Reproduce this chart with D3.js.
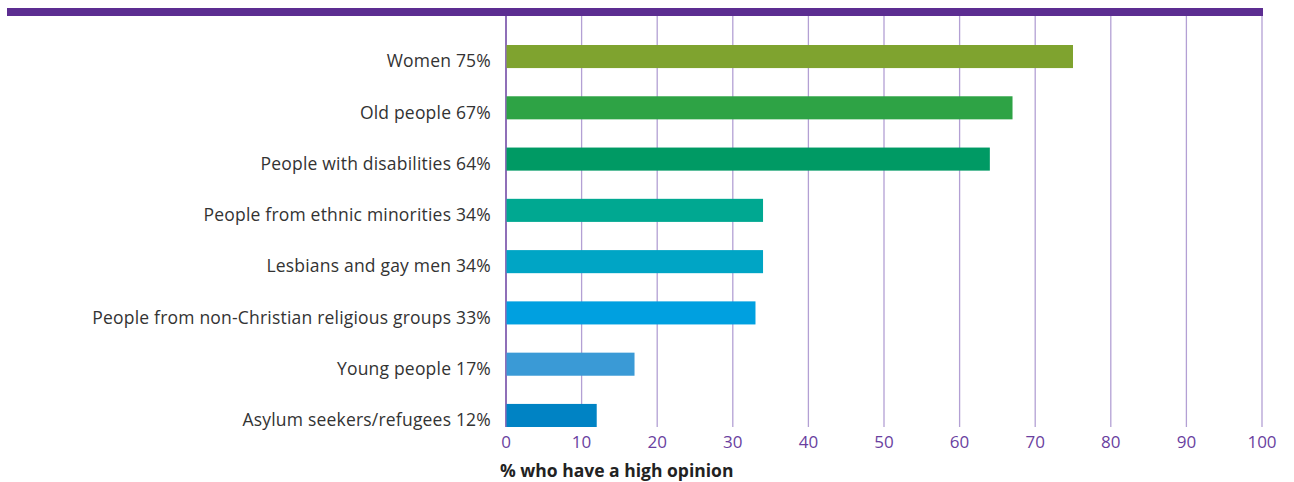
<!DOCTYPE html>
<html>
<head>
<meta charset="utf-8">
<script src="https://cdn.jsdelivr.net/npm/d3@7"></script>
<style>
  body { margin: 0; background: #fff; }
  svg { display: block; font-family: "Open Sans", Lato, sans-serif; }
</style>
</head>
<body>
<div class="chart"></div>
<script>
var groups = ["Women", "Old people", "People with disabilities", "People from ethnic minorities",
  "Lesbians and gay men", "People from non-Christian religious groups", "Young people", "Asylum seekers/refugees"];
var values = [75, 67, 64, 34, 34, 33, 17, 12];
var colors = ["#7fa32f", "#2ea345", "#009a64", "#00a891", "#00a5c5", "#00a0e0", "#3a9ad6", "#0083c4"];
var ticks = [0, 10, 20, 30, 40, 50, 60, 70, 80, 90, 100];

var width = 1294, height = 482;

var svg = d3.select(".chart")
    .append("svg")
    .attr("width", width)
    .attr("height", height);

var x = d3.scaleLinear().domain([0, 100]).range([506, 1262]);
var y = d3.scaleBand().domain(groups).range([45, 427]).paddingInner(0.55).paddingOuter(0);

// gridlines
svg.append("g")
    .selectAll("line")
    .data(ticks)
    .enter()
    .append("line")
    .attr("x1", d => x(d))
    .attr("x2", d => x(d))
    .attr("y1", 16)
    .attr("y2", 427)
    .attr("stroke", d => d == 0 ? "#6a3fa0" : "#b3a0d4")
    .attr("stroke-width", d => d == 0 ? 1.5 : 1.3);

// top band
svg.append("rect")
    .attr("x", 7)
    .attr("y", 8)
    .attr("width", 1256)
    .attr("height", 8)
    .attr("fill", "#5c2d91");

// bars
svg.append("g")
    .selectAll("rect")
    .data(groups)
    .enter()
    .append("rect")
    .attr("x", x(0) + 0.5)
    .attr("y", d => y(d))
    .attr("width", (d, i) => x(values[i]) - x(0) - 0.5)
    .attr("height", y.bandwidth())
    .attr("fill", (d, i) => colors[i]);

// category labels (sit a little below the bar centre, as in the original)
svg.append("g")
    .selectAll("text")
    .data(groups)
    .enter()
    .append("text")
    .attr("x", 491)
    .attr("y", d => y(d) + y.bandwidth() / 2 + 4.5)
    .attr("dy", "0.36em")
    .attr("text-anchor", "end")
    .attr("font-size", 17.5)
    .attr("letter-spacing", 0.2)
    .attr("fill", "#333")
    .text((d, i) => d + " " + values[i] + "%");

// tick labels
svg.append("g")
    .selectAll("text")
    .data(ticks)
    .enter()
    .append("text")
    .attr("x", d => x(d))
    .attr("y", 442)
    .attr("dy", "0.36em")
    .attr("text-anchor", "middle")
    .attr("font-size", 17)
    .attr("fill", "#6a3fa0")
    .text(d => d);

// axis title
svg.append("text")
    .attr("x", 500)
    .attr("y", 471)
    .attr("dy", "0.36em")
    .attr("font-size", 17.5)
    .attr("font-weight", "bold")
    .attr("fill", "#222")
    .text("% who have a high opinion");
</script>
</body>
</html>
